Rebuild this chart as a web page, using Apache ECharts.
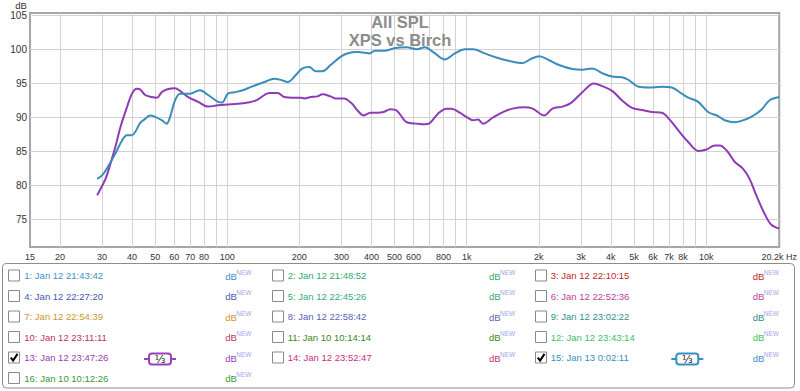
<!DOCTYPE html>
<html><head><meta charset="utf-8">
<script src="https://cdn.jsdelivr.net/npm/echarts@6/dist/echarts.min.js"></script>
<style>html,body{margin:0;padding:0;background:#fff}#c{width:800px;height:391px}</style>
</head><body><div id="c"></div>
<script>
// Series 15 (blue) – frequency (Hz) and SPL (dB)
const blueFreq = [28.6,30,32,34.1,36.3,38.1,40,41.3,43.3,45.4,47.6,50,53.2,55.8,57.7,60.5,63.5,69.8,76.8,83.2,91.5,95.1,100.7,107.3,116,126,143,157,168,179,193,206,220,234,250,270,297,317,349,378,390,415,457,503,562,618,669,725,810,892,981,1063,1188,1328,1508,1714,1856,2009,2210,2431,2764,3041,3346,3681,4050,4457,4746,5222,5745,6531,7185,7906,8420,9265,10193,11215,11959,13157,14027,15437,16979,18386,20200];
const blueDb = [81.0,81.5,83.0,84.7,86.6,87.4,87.4,87.9,89.2,89.8,90.3,90.1,89.6,89.1,90.1,92.5,93.5,93.5,94.0,93.3,92.3,92.2,93.5,93.7,94.0,94.5,95.2,95.7,95.5,95.2,96.2,97.2,97.4,96.8,96.8,97.7,98.9,99.4,99.6,99.5,99.4,99.8,99.8,100.2,100.3,100.0,100.3,99.6,98.5,99.4,100.0,100.0,99.4,98.8,98.3,98.0,98.6,99.0,98.4,97.7,97.1,97.0,97.2,96.5,96.0,95.9,95.5,94.5,94.4,94.5,94.4,93.5,92.9,92.3,90.8,90.2,89.6,89.3,89.5,90.1,91.1,92.5,93.0];
// Series 13 (purple)
const purpleFreq = [28.6,31,32.5,34.1,35.8,38.1,40,41.9,43.3,45.4,48.4,50.8,53.2,55.8,60.5,63.5,68.7,75.6,83.2,91.5,100.7,110.8,121.9,131.9,143,149.9,162.3,173,187.4,202.8,209.5,223.1,237.9,249.6,270.1,283.4,307,332.3,348.5,371.6,395.9,422,449.9,479.2,510.9,562,618,669,702.2,760.8,823.8,864.1,935.4,997,1063,1115,1170,1287,1416,1557,1741,1886,2107,2283,2512,2719,3041,3398,3681,4050,4457,4903,5395,5934,6531,7000,7652,8420,9265,10039,10867,11398,12341,13157,14240,15185,16190,17529,18683,20200];
const purpleDb = [78.6,81.0,83.2,85.7,88.6,91.5,93.5,94.2,94.1,93.3,93.0,92.9,93.7,94.1,94.3,93.9,93.0,92.3,91.6,91.8,91.9,92.0,92.2,92.5,93.3,93.6,93.6,93.0,92.9,92.9,92.8,93.0,93.1,93.4,93.1,92.8,92.8,92.0,91.1,90.3,90.7,90.7,90.8,91.2,91.0,89.3,89.1,89.0,89.2,90.6,91.3,91.3,90.7,90.1,89.6,89.7,89.1,90.0,90.8,91.3,91.5,91.3,90.3,91.3,91.6,92.1,93.7,95.0,94.6,93.9,92.5,91.4,91.1,90.8,90.7,89.8,88.1,86.4,85.1,85.3,85.9,85.9,84.9,83.5,82.5,81.0,78.6,75.9,74.3,73.7];

const xLabelHz = [15,20,30,40,50,60,70,80,100,200,300,400,500,600,800,1000,2000,3000,4000,5000,6000,7000,8000,10000,20200];
const xGridHz = [20,30,40,50,60,70,80,90,100,200,300,400,500,600,700,800,900,1000,2000,3000,4000,5000,6000,7000,8000,9000,10000];
const yTicks = [75,80,85,90,95,100,105];
const xMinHz = 15, xMaxHz = 20200, yMin = 71, yMax = 105.33;
const titleLines = ['All SPL', 'XPS vs Birch'];

const legendNames = ['1: Jan 12 21:43:42','2: Jan 12 21:48:52','3: Jan 12 22:10:15','4: Jan 12 22:27:20','5: Jan 12 22:45:26','6: Jan 12 22:52:36','7: Jan 12 22:54:39','8: Jan 12 22:58:42','9: Jan 12 23:02:22','10: Jan 12 23:11:11','11: Jan 10 10:14:14','12: Jan 12 23:43:14','13: Jan 12 23:47:26','14: Jan 12 23:52:47','15: Jan 13 0:02:11','16: Jan 10 10:12:26'];
const legendColors = ['#3f8fc6','#32a970','#c0282a','#4a55b0','#34aa7c','#c03c9c','#c79a2c','#5a5fb8','#2f8f8f','#c0306a','#3a8a22','#3cbf5e','#9a40b8','#c8307a','#3a8fbf','#3a9a38'];
const checkedItems = [13,15];
const smoothingLabel = '⅓';

const L = Math.log10;
const FONT = '"Liberation Sans", Arial, sans-serif';

function fmtHz(v){
  const f = Math.round(Math.pow(10, v));
  if (f >= 20000) return (Math.round(f/100)/10) + 'k Hz';
  if (f >= 1000) return (Math.round(f/100)/10) + 'k';
  return String(f);
}

// Legend graphics
const colX = [8.5, 272.5, 535.5];
const textX = [24.3, 287.7, 550.7];
const dbX = [225.3, 489, 752.7];
const badgeX = [160, 0, 687.3];
const g = [];
g.push({type:'rect', shape:{x:2.5,y:263.5,width:792,height:124.5,r:4}, style:{fill:'#fff',stroke:'#8c8c8c',lineWidth:1}, z:0});
legendNames.forEach((name, i) => {
  const row = Math.floor(i/3), col = i%3;
  const y = 275.5 + row*20.5;
  const c = legendColors[i];
  const num = i+1;
  g.push({type:'rect', shape:{x:colX[col], y:y-5.5, width:11, height:11}, style:{fill:'#fff', stroke:'#8a8a8a', lineWidth:1}, z:1});
  if (checkedItems.includes(num)) {
    g.push({type:'polyline', shape:{points:[[colX[col]+2.2,y+0.2],[colX[col]+4.6,y+3],[colX[col]+9,y-3.6]]}, style:{stroke:'#000', lineWidth:2, fill:null}, z:2});
    const bx = badgeX[col], c2 = c;
    g.push({type:'line', shape:{x1:bx-16,y1:y+1.5,x2:bx-11,y2:y+1.5}, style:{stroke:c2,lineWidth:2}, z:1});
    g.push({type:'line', shape:{x1:bx+11,y1:y+1.5,x2:bx+16,y2:y+1.5}, style:{stroke:c2,lineWidth:2}, z:1});
    g.push({type:'rect', shape:{x:bx-11,y:y-4,width:22,height:11,r:3}, style:{fill:'#fff',stroke:c2,lineWidth:2}, z:1});
    g.push({type:'text', x:bx, y:y+1.5, style:{text:smoothingLabel, fill:'#222', font:'11px "DejaVu Sans", sans-serif', textAlign:'center', textVerticalAlign:'middle'}, z:2});
  }
  g.push({type:'text', x:textX[col], y:y, style:{text:name, fill:c, font:'9.5px '+FONT, textAlign:'left', textVerticalAlign:'middle'}, z:1});
  g.push({type:'text', x:dbX[col], y:y+0.5, style:{text:'dB', fill:c, font:'9.5px '+FONT, textAlign:'left', textVerticalAlign:'middle'}, z:1});
  g.push({type:'text', x:dbX[col]+11, y:y-3.5, style:{text:'NEW', fill:'#a3a6ea', font:'6.5px '+FONT, textAlign:'left', textVerticalAlign:'middle'}, z:1});
});
g.push({type:'text', x:21, y:5, style:{text:'dB', fill:'#333', font:'9.5px '+FONT, textAlign:'center', textVerticalAlign:'middle'}});
// Title (two lines)
titleLines.forEach((t, i) => {
  g.push({type:'text', x:400, y:22 + i*17.5, style:{text:t, fill:'#8c8c8c', font:'bold 16.5px '+FONT, textAlign:'center', textVerticalAlign:'middle'}, z:10});
});

const chart = echarts.init(document.getElementById('c'), null, {renderer:'svg'});
chart.setOption({
  animation:false,
  backgroundColor:'#fff',
  grid:{left:30, right:15, top:13, bottom:144, show:true, borderColor:'#a6a6a6', borderWidth:2, backgroundColor:'#fff'},
  xAxis:{type:'value', min:L(xMinHz), max:L(xMaxHz),
    axisLine:{show:false},
    axisTick:{show:false, customValues:xGridHz.map(L)},
    splitLine:{show:true, lineStyle:{color:'#d2d2d2', width:1}},
    axisLabel:{customValues:xLabelHz.map(L), formatter:fmtHz, color:'#333', fontFamily:FONT, fontSize:9, margin:5}},
  yAxis:{type:'value', min:yMin, max:yMax,
    axisLine:{show:false},
    axisTick:{show:false, customValues:yTicks},
    splitLine:{show:true, lineStyle:{color:'#d2d2d2', width:1}},
    axisLabel:{customValues:yTicks, color:'#333', fontFamily:FONT, fontSize:10, margin:3}},
  series:[
    {name:'13', type:'line', showSymbol:false, smooth:0.35, clip:true,
     lineStyle:{color:'#8e3bb5', width:2}, data:purpleFreq.map((f,i)=>[L(f), purpleDb[i]])},
    {name:'15', type:'line', showSymbol:false, smooth:0.35, clip:true,
     lineStyle:{color:'#3a8dba', width:2}, data:blueFreq.map((f,i)=>[L(f), blueDb[i]])}
  ],
  graphic:{elements:g}
});
</script></body></html>
